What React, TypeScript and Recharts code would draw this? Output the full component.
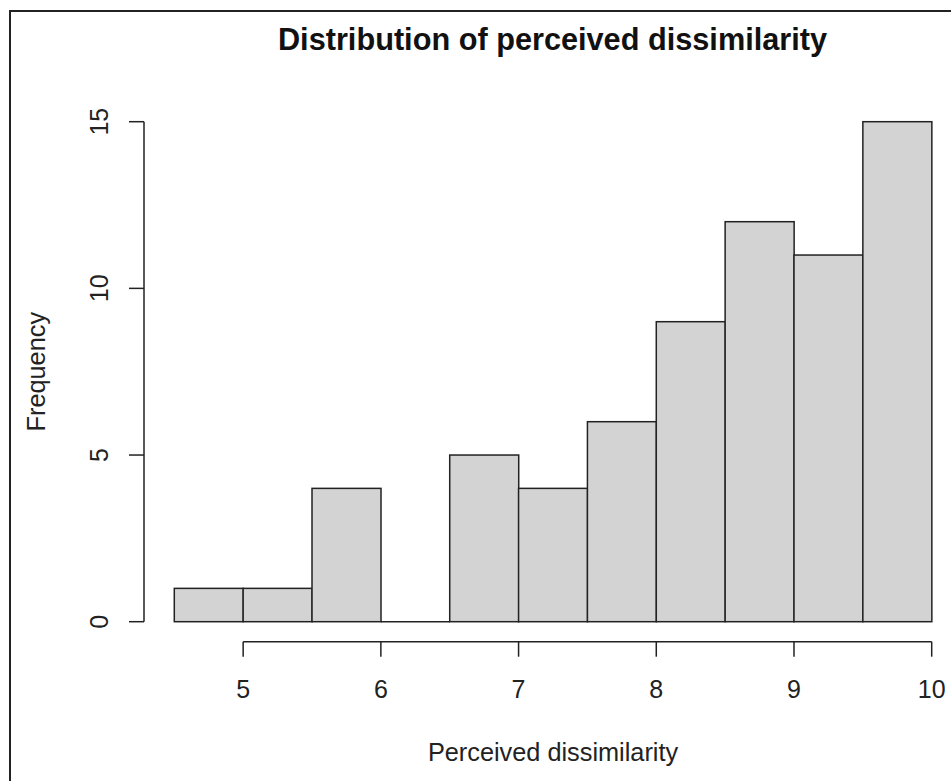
import { ComposedChart, Bar, XAxis, YAxis, ReferenceLine, Label } from 'recharts'

// histogram bins (width 0.5) and their counts
const binMids = [4.75, 5.25, 5.75, 6.25, 6.75, 7.25, 7.75, 8.25, 8.75, 9.25, 9.75]
const counts = [1, 1, 4, 0, 5, 4, 6, 9, 12, 11, 15]
const xTicks = [5, 6, 7, 8, 9, 10]
const yTicks = [0, 5, 10, 15]

const data = binMids.map((mid, i) => ({ mid, count: counts[i] }))

// base R pads the range by 4% each side, axes sit on that edge
const X_DOMAIN: [number, number] = [4.28, 10.22]
const Y_DOMAIN: [number, number] = [-0.6, 15.6]

const FONT = '"Liberation Sans", Arial, sans-serif'
const INK = '#222'

function HistBar(props: any) {
  const { x, y, width, height } = props
  if (!height) {
    // empty bin: R still draws the flat outline
    return <line x1={x} x2={x + width} y1={y} y2={y} stroke={INK} strokeWidth={1.5} />
  }
  return <rect x={x} y={y} width={width} height={height} fill="#d3d3d3" stroke={INK} strokeWidth={1.5} />
}

function XTick({ x, y, payload }: any) {
  return (
    <text x={x} y={y} textAnchor="middle" fontSize={25} fontFamily={FONT} fill={INK}>
      {payload.value}
    </text>
  )
}

function YTick({ x, y, payload }: any) {
  return (
    <text x={x} y={y} transform={`rotate(-90, ${x}, ${y})`} textAnchor="middle" fontSize={25} fontFamily={FONT} fill={INK}>
      {payload.value}
    </text>
  )
}

export default function App() {
  return (
    <div style={{ position: 'absolute', left: 0, top: 0, width: 951, height: 781, overflow: 'hidden', background: '#fff' }}>
      <div
        style={{
          position: 'absolute', left: 9, top: 10, width: 950, height: 780,
          borderTop: `2px solid ${INK}`, borderLeft: `2px solid ${INK}`,
        }}
      />
      <div
        style={{
          position: 'absolute', left: 144, top: 25, width: 817, textAlign: 'center',
          fontFamily: FONT, fontWeight: 'bold', fontSize: 30.7, lineHeight: '30px', color: '#111',
        }}
      >
        Distribution of perceived dissimilarity
      </div>
      <ComposedChart
        width={962}
        height={781}
        data={data}
        margin={{ top: 101.7, right: 0, bottom: 79.3, left: 74 }}
        barCategoryGap={0}
        barGap={0}
      >
        <XAxis
          dataKey="mid"
          type="number"
          domain={X_DOMAIN}
          allowDataOverflow
          ticks={xTicks}
          interval={0}
          height={60}
          axisLine={false}
          tickLine={{ stroke: INK, strokeWidth: 1.5 }}
          tickSize={15}
          tickMargin={41}
          tick={<XTick />}
        >
          <Label
            content={({ viewBox }: any) => (
              <text
                x={viewBox.x + viewBox.width / 2}
                y={viewBox.y + 119.5}
                textAnchor="middle"
                fontSize={25.3}
                fontFamily={FONT}
                fill={INK}
              >
                Perceived dissimilarity
              </text>
            )}
          />
        </XAxis>
        <YAxis
          type="number"
          domain={Y_DOMAIN}
          allowDataOverflow
          ticks={yTicks}
          interval={0}
          width={70}
          axisLine={false}
          tickLine={{ stroke: INK, strokeWidth: 1.5 }}
          tickSize={15}
          tickMargin={21}
          tick={<YTick />}
        >
          <Label
            content={({ viewBox }: any) => {
              const cx = viewBox.x + viewBox.width - 99
              const cy = viewBox.y + viewBox.height / 2
              return (
                <text
                  x={cx}
                  y={cy}
                  transform={`rotate(-90, ${cx}, ${cy})`}
                  textAnchor="middle"
                  fontSize={25.3}
                  fontFamily={FONT}
                  fill={INK}
                >
                  Frequency
                </text>
              )
            }}
          />
        </YAxis>
        <ReferenceLine
          segment={[{ x: xTicks[0], y: Y_DOMAIN[0] }, { x: xTicks[xTicks.length - 1], y: Y_DOMAIN[0] }]}
          stroke={INK}
          strokeWidth={1.5}
          ifOverflow="visible"
        />
        <ReferenceLine
          segment={[{ x: X_DOMAIN[0], y: yTicks[0] }, { x: X_DOMAIN[0], y: yTicks[yTicks.length - 1] }]}
          stroke={INK}
          strokeWidth={1.5}
          ifOverflow="visible"
        />
        <Bar dataKey="count" shape={<HistBar />} isAnimationActive={false} />
      </ComposedChart>
    </div>
  )
}
